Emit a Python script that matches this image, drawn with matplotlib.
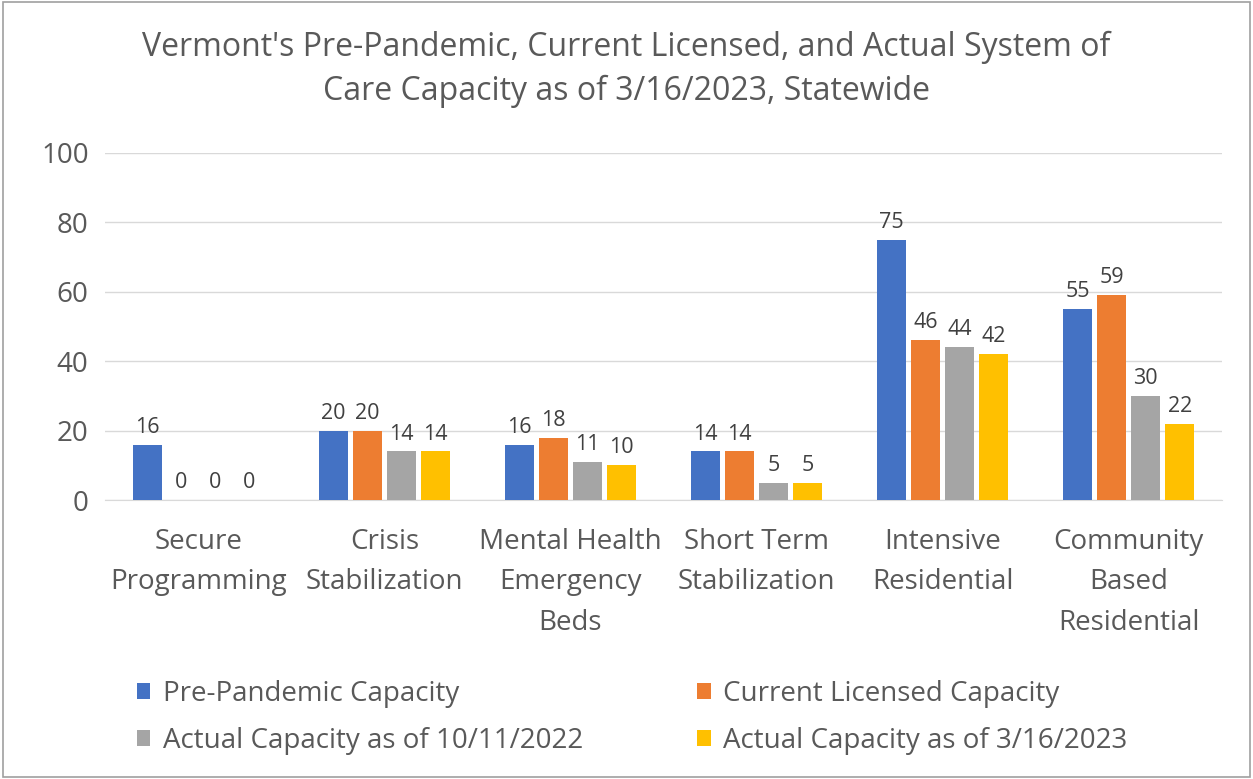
import matplotlib.pyplot as plt
import numpy as np
from matplotlib.patches import Rectangle

plt.rcParams['font.family'] = ['Open Sans', 'DejaVu Sans']

categories = ["Secure\nProgramming", "Crisis\nStabilization", "Mental Health\nEmergency\nBeds",
              "Short Term\nStabilization", "Intensive\nResidential", "Community\nBased\nResidential"]
series_names = ["Pre-Pandemic Capacity", "Current Licensed Capacity",
                "Actual Capacity as of 10/11/2022", "Actual Capacity as of 3/16/2023"]
pre_pandemic = [16, 20, 16, 14, 75, 55]
current_licensed = [0, 20, 18, 14, 46, 59]
actual_2022 = [0, 14, 11, 5, 44, 30]
actual_2023 = [0, 14, 10, 5, 42, 22]
colors = ["#4472C4", "#ED7D31", "#A5A5A5", "#FFC000"]

fig = plt.figure(figsize=(12.53, 7.79), dpi=100)
ax = fig.add_axes([0.084, 0.358, 0.891, 0.446])

x = np.arange(len(categories))
width = 0.156
step = 0.183
handles = []
for i, (vals, name, c) in enumerate(zip([pre_pandemic, current_licensed, actual_2022, actual_2023],
                                        series_names, colors)):
    pos = x + (i - 1.5) * step
    b = ax.bar(pos, vals, width, color=c, label=name, zorder=3)
    handles.append(b)
    for p, v in zip(pos, vals):
        ax.text(p, v + 2, str(v), ha="center", va="bottom", fontsize=15.5, color="#404040")

ax.set_xlim(-0.5, 5.5)
ax.set_ylim(0, 100)
ax.set_yticks(range(0, 101, 20))
ax.set_xticks(x)
ax.set_xticklabels(categories, fontsize=20, color="#595959", linespacing=1.6)
ax.tick_params(axis="y", labelsize=20, labelcolor="#595959", length=0, pad=12)
ax.tick_params(axis="x", length=0, pad=20)
ax.grid(axis="y", color="#D9D9D9", lw=1, zorder=0)
for s in ["top", "right", "left"]:
    ax.spines[s].set_visible(False)
ax.spines["bottom"].set_color("#D9D9D9")

fig.text(0.5, 0.911, "Vermont's Pre-Pandemic, Current Licensed, and Actual System of\nCare Capacity as of 3/16/2023, Statewide",
         ha="center", va="center", fontsize=23, color="#595959", linespacing=1.45)

order = [0, 2, 1, 3]
fig.legend([handles[k] for k in order], [series_names[k] for k in order],
           loc="center left", bbox_to_anchor=(0.089, 0.079), ncol=2, frameon=False,
           fontsize=20, labelcolor="#595959", handlelength=0.5, handleheight=0.5,
           columnspacing=4.1, handletextpad=0.45, labelspacing=0.7)

fig.patches.append(Rectangle((0.002, 0.003), 0.996, 0.994, transform=fig.transFigure,
                             fill=False, edgecolor="#A0A0A0", lw=1.2))

fig.savefig("out.png", dpi=100)
